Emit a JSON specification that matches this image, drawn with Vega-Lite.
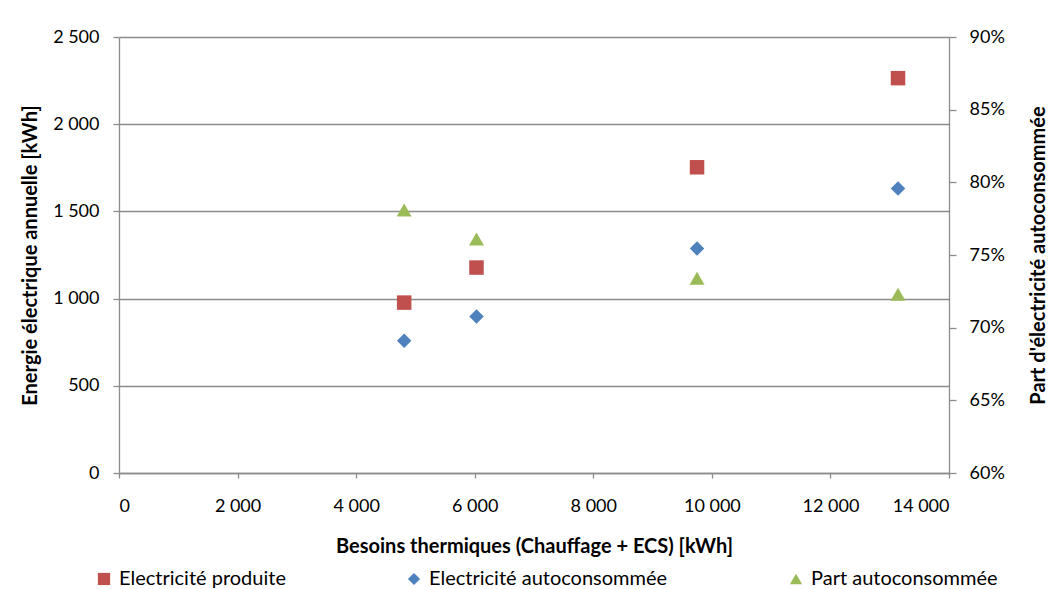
{
  "$schema": "https://vega.github.io/schema/vega-lite/v6.json",
  "width": 830,
  "height": 436,
  "autosize": {"type": "none"},
  "padding": {"left": 119, "top": 37, "right": 102, "bottom": 116},
  "background": "white",
  "config": {
    "locale": {"number": {"decimal": ",", "thousands": "\u00a0", "grouping": [3], "currency": ["", " €"]}},
    "font": "Lato",
    "view": {"stroke": null},
    "axis": {
      "labelFont": "Lato", "labelFontSize": 18, "labelColor": "#000000",
      "titleFont": "Lato", "titleFontSize": 20, "titleFontWeight": "bold", "titleColor": "#000000",
      "domainColor": "#8c8c8c", "tickColor": "#8c8c8c", "gridColor": "#8c8c8c",
      "domainWidth": 1.3, "gridWidth": 1.3, "tickWidth": 1.3
    },
    "legend": {"labelFont": "Lato", "labelFontSize": 20, "labelColor": "#000000", "labelLimit": 0}
  },
  "data": {
    "values": [
      {"besoins": 4810, "serie": "Electricité produite", "valeur": 977},
      {"besoins": 6030, "serie": "Electricité produite", "valeur": 1178},
      {"besoins": 9750, "serie": "Electricité produite", "valeur": 1753},
      {"besoins": 13140, "serie": "Electricité produite", "valeur": 2264},
      {"besoins": 4810, "serie": "Electricité autoconsommée", "valeur": 759},
      {"besoins": 6030, "serie": "Electricité autoconsommée", "valeur": 897},
      {"besoins": 9750, "serie": "Electricité autoconsommée", "valeur": 1287},
      {"besoins": 13140, "serie": "Electricité autoconsommée", "valeur": 1632},
      {"besoins": 4810, "serie": "Part autoconsommée", "valeur": 0.781},
      {"besoins": 6030, "serie": "Part autoconsommée", "valeur": 0.761},
      {"besoins": 9750, "serie": "Part autoconsommée", "valeur": 0.734},
      {"besoins": 13140, "serie": "Part autoconsommée", "valeur": 0.723}
    ]
  },
  "layer": [
    {
      "transform": [{"filter": "datum.serie !== 'Part autoconsommée'"}],
      "mark": {"type": "point", "filled": true, "opacity": 1, "size": 210},
      "encoding": {
        "x": {
          "field": "besoins", "type": "quantitative",
          "scale": {"domain": [0, 14000], "nice": false},
          "axis": {
            "title": "Besoins thermiques (Chauffage + ECS) [kWh]",
            "values": [0, 2000, 4000, 6000, 8000, 10000, 12000, 14000],
            "format": ",.0f", "grid": false, "tickSize": 5, "labelPadding": 19, "titlePadding": 21
          }
        },
        "y": {
          "field": "valeur", "type": "quantitative",
          "scale": {"domain": [0, 2500], "nice": false},
          "axis": {
            "title": "Energie électrique annuelle [kWh]",
            "values": [0, 500, 1000, 1500, 2000, 2500],
            "format": ",.0f", "grid": true, "tickSize": 6, "labelPadding": 14, "titlePadding": 12
          }
        },
        "color": {
          "field": "serie", "type": "nominal",
          "scale": {"domain": ["Electricité produite", "Electricité autoconsommée", "Part autoconsommée"], "range": ["#C0504D", "#4F81BD", "#9BBB59"]},
          "legend": {
            "title": null, "orient": "none", "legendX": -25, "legendY": 532,
            "direction": "horizontal", "columns": 3, "columnPadding": 118,
            "symbolSize": 150, "labelOffset": 5, "padding": 0, "symbolStrokeWidth": 0
          }
        },
        "shape": {
          "field": "serie", "type": "nominal",
          "scale": {"domain": ["Electricité produite", "Electricité autoconsommée", "Part autoconsommée"], "range": ["square", "diamond", "triangle-up"]}
        }
      }
    },
    {
      "transform": [{"filter": "datum.serie === 'Part autoconsommée'"}],
      "mark": {"type": "point", "filled": true, "opacity": 1, "size": 225},
      "encoding": {
        "x": {"field": "besoins", "type": "quantitative"},
        "y": {
          "field": "valeur", "type": "quantitative",
          "scale": {"domain": [0.6, 0.9], "nice": false},
          "axis": {
            "orient": "right",
            "title": "Part d'électricité autoconsommée",
            "titleAngle": 270,
            "values": [0.6, 0.65, 0.7, 0.75, 0.8, 0.85, 0.9],
            "format": ".0%", "grid": false, "tickSize": 7, "labelPadding": 13, "titlePadding": 44
          }
        },
        "color": {"field": "serie", "type": "nominal"},
        "shape": {"field": "serie", "type": "nominal"}
      }
    }
  ],
  "resolve": {"scale": {"y": "independent"}}
}
